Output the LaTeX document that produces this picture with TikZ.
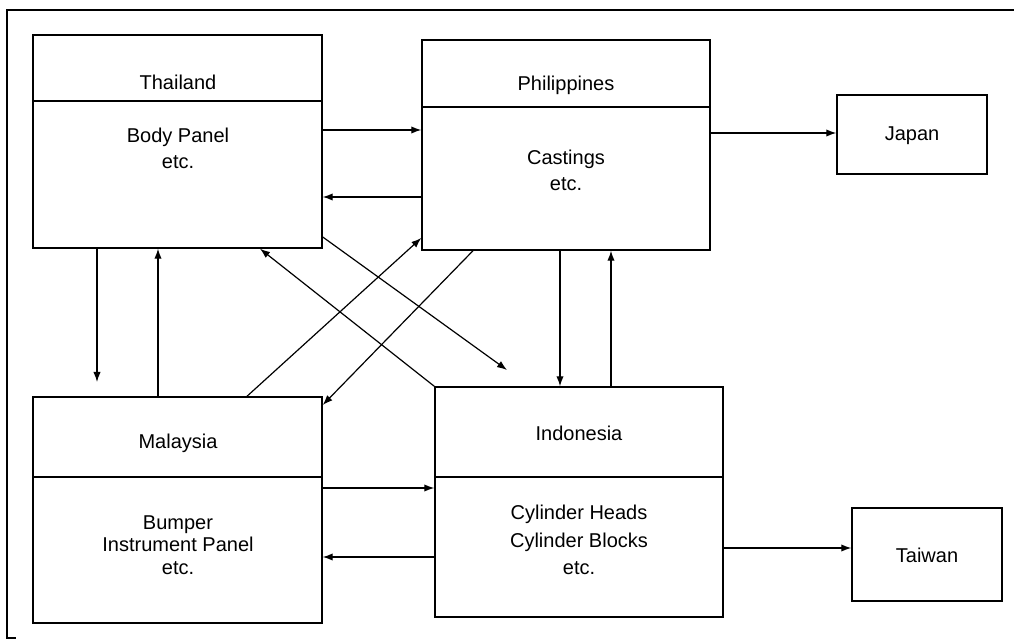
\documentclass[tikz,border=0pt]{standalone}
\usepackage{fontspec}
\setmainfont{Liberation Sans}
\usetikzlibrary{arrows.meta,fit}
\begin{document}
\begin{tikzpicture}[x=0.75pt,y=-0.75pt,
  box/.style={draw,line width=1.1pt,inner sep=0pt},
  lbl/.style={align=center,font=\fontsize{15}{19.5}\selectfont,inner sep=0pt},
  arr/.style={line width=0.9pt,-{Latex[length=7.5pt,width=5.5pt]}},
  divider/.style={line width=0.9pt}]
\useasboundingbox (0,0) rectangle (1014,641);
% outer frame
\draw[line width=0.8pt] (1014,10) -- (7,10) -- (7,638) -- (16,638);
% boxes
\node[box,fit={(33,35) (322,248)}] (thai) {};
\node[box,fit={(422,40) (710,250)}] (phil) {};
\node[box,fit={(837,95) (987,174)}] (japan) {};
\node[box,fit={(33,397) (322,623)}] (mal) {};
\node[box,fit={(435,387) (723,617)}] (indo) {};
\node[box,fit={(852,508) (1002,601)}] (taiwan) {};
% dividers
\draw[divider] (thai.west |- 0,101) -- (thai.east |- 0,101);
\draw[divider] (phil.west |- 0,107) -- (phil.east |- 0,107);
\draw[divider] (mal.west |- 0,477) -- (mal.east |- 0,477);
\draw[divider] (indo.west |- 0,477) -- (indo.east |- 0,477);
% texts
\node[lbl] (thaiT) at (178,82) {Thailand};
\node[lbl] (thaiB) at (178,148) {Body Panel\\etc.};
\node[lbl] (philT) at (566,85) {Philippines};
\node[lbl] (philB) at (566,170) {Castings\\etc.};
\node[lbl] (japanT) at (912,136) {Japan};
\node[lbl] (malT) at (178,443) {Malaysia};
\node[lbl,font=\fontsize{15}{17}\selectfont] (malB) at (178,545) {Bumper\\Instrument Panel\\etc.};
\node[lbl] (indoT) at (579,433) {Indonesia};
\node[lbl,font=\fontsize{15}{20.5}\selectfont] (indoB) at (579,540) {Cylinder Heads\\Cylinder Blocks\\etc.};
\node[lbl] (taiwanT) at (927,555) {Taiwan};
% free ends
\coordinate (t2m) at (97,382);
\coordinate (t2i) at (507,370);
% connectors
\draw[arr] (thai.east |- 0,130) -- (phil.west |- 0,130);
\draw[arr] (phil.west |- 0,197) -- (thai.east |- 0,197);
\draw[arr] (phil.east |- 0,133) -- (japan.west |- 0,133);
\draw[arr] (thai.south -| t2m) -- (t2m);
\draw[arr] (mal.north -| 158,0) -- (thai.south -| 158,0);
\draw[arr] (thai.east |- 0,237) -- (t2i);
\draw[arr] (indo.north west) -- (thai.south -| 260,0);
\draw[arr] (mal.north -| 247,0) -- (phil.west |- 0,238);
\draw[arr] (phil.south -| 473,0) -- (mal.east |- 0,405);
\draw[arr] (phil.south -| 560,0) -- (indo.north -| 560,0);
\draw[arr] (indo.north -| 611,0) -- (phil.south -| 611,0);
\draw[arr] (mal.east |- 0,488) -- (indo.west |- 0,488);
\draw[arr] (indo.west |- 0,557) -- (mal.east |- 0,557);
\draw[arr] (indo.east |- 0,548) -- (taiwan.west |- 0,548);
\end{tikzpicture}
\end{document}
